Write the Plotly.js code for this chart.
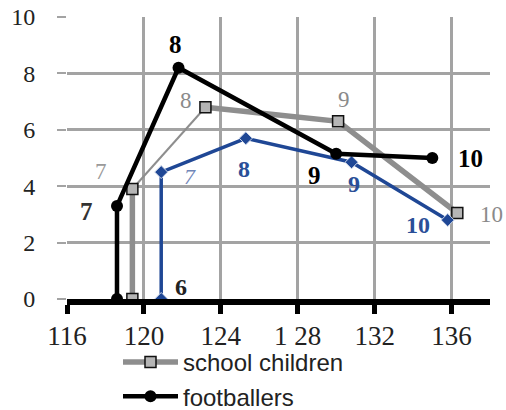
<!DOCTYPE html>
<html><head><meta charset="utf-8">
<script src="https://cdn.plot.ly/plotly-3.0.1.min.js"></script>
<style>html,body{margin:0;padding:0;background:#fff}#chart{width:506px;height:410px}</style>
</head><body><div id="chart"></div>
<script>
// Data
const xTicks = [116, 120, 124, 128, 132, 136];
const xTickText = ["116", "120", "124", "1 28", "132", "136"];
const yTicks = [0, 2, 4, 6, 8, 10];

const schoolX = [119.4, 119.4, 123.2, 130.1, 136.3];
const schoolY = [0, 3.9, 6.8, 6.3, 3.05];
const schoolLabels = ["", "7", "8", "9", "10"];

const footX = [118.6, 118.6, 121.8, 130.0, 135.0];
const footY = [0, 3.3, 8.2, 5.15, 5.0];
const footLabels = ["", "7", "8", "9", "10"];

const blueX = [120.9, 120.9, 125.3, 130.8, 135.8];
const blueY = [0, 4.5, 5.7, 4.85, 2.8];
const blueLabels = ["6", "7", "8", "9", "10"];

// label offsets (px): [dx, dy] with dy downward
const schoolOff = [[0,0], [-31,-18], [-19,-7], [6,-22], [34,2]];
const footOff = [[0,0], [-30,6], [-3,-23], [-22,22], [38,0]];
const blueOff = [[20,-12], [29,4], [-2,31], [2,22], [-30,5]];

const GRAY = "#8e8e8e", BLUE = "#1f4795", BLACK = "#000";

// school children: thick segments with a thin segment between points 1 and 2
const thinIdx = 1;
const schoolThickX = schoolX.slice(0, thinIdx + 1).concat([null], schoolX.slice(thinIdx + 1));
const schoolThickY = schoolY.slice(0, thinIdx + 1).concat([null], schoolY.slice(thinIdx + 1));
const schoolThinX = schoolX.slice(thinIdx, thinIdx + 2);
const schoolThinY = schoolY.slice(thinIdx, thinIdx + 2);

const traces = [
  {x: schoolThinX, y: schoolThinY, mode: "lines", showlegend: false, hoverinfo: "skip",
   line: {color: GRAY, width: 2}},
  {x: schoolThickX, y: schoolThickY, name: "school children", mode: "lines+markers",
   legendgroup: "a", connectgaps: false,
   line: {color: GRAY, width: 5.5},
   marker: {symbol: "square", size: 11, color: "#b5b5b5", line: {color: "#111", width: 1.5}}},
  {x: blueX, y: blueY, name: "", mode: "lines+markers", showlegend: false,
   line: {color: BLUE, width: 3.5},
   marker: {symbol: "diamond", size: 10, color: BLUE, line: {color: "#cfd8ea", width: 1}}},
  {x: footX, y: footY, name: "footballers", mode: "lines+markers",
   legendgroup: "b",
   line: {color: BLACK, width: 4.5},
   marker: {symbol: "circle", size: 12, color: BLACK}}
];

const annotations = [];
function addLabels(xs, ys, labels, offs, fonts) {
  for (let i = 0; i < xs.length; i++) {
    if (!labels[i]) continue;
    annotations.push({x: xs[i], y: ys[i], xref: "x", yref: "y", text: labels[i],
      showarrow: false, xshift: offs[i][0], yshift: -offs[i][1], font: fonts[i]});
  }
}
const grayF = {family: "Liberation Serif", size: 23, color: "#8a8a8a"};
const blackF = {family: "Liberation Serif", size: 25, color: "#000", weight: "bold"};
const blueF = {family: "Liberation Serif", size: 24, color: "#2a4f98", weight: "bold"};
addLabels(schoolX, schoolY, schoolLabels, schoolOff, [grayF, {...grayF, color: "#9a9a9a"}, grayF, grayF, grayF]);
addLabels(footX, footY, footLabels, footOff, [blackF, {...blackF, color: "#333"}, blackF, blackF, blackF]);
addLabels(blueX, blueY, blueLabels, blueOff,
  [{family: "Liberation Serif", size: 24, color: "#222", weight: "bold"},
   {family: "Liberation Serif", size: 22, color: "#7086b8", style: "italic"},
   blueF, blueF, blueF]);

const layout = {
  width: 506, height: 410,
  margin: {l: 67, r: 16, t: 17, b: 111, autoexpand: false},
  paper_bgcolor: "#fff", plot_bgcolor: "#fff",
  showlegend: true,
  legend: {xref: "container", yref: "container", x: 118/506, y: (410-340)/410,
    xanchor: "left", yanchor: "top", orientation: "v",
    traceorder: "grouped", tracegroupgap: 0, itemwidth: 55,
    font: {family: "Liberation Sans", size: 24, color: "#222"}, bgcolor: "rgba(0,0,0,0)"},
  xaxis: {range: [116, 138], tickvals: xTicks, ticktext: xTickText,
    showgrid: true, gridcolor: "#a3a3a3", gridwidth: 3,
    showline: true, linecolor: "#000", linewidth: 6,
    ticks: "outside", ticklen: 9, tickwidth: 5, tickcolor: "#000",
    zeroline: false, ticklabelstandoff: -1,
    tickfont: {family: "Liberation Serif", size: 27, color: "#222"}},
  yaxis: {range: [0, 10], tickvals: yTicks,
    showgrid: true, gridcolor: "#a3a3a3", gridwidth: 3,
    showline: false, zeroline: false,
    ticks: "outside", ticklen: 9, tickwidth: 2, tickcolor: "#a3a3a3",
    ticklabelstandoff: 17,
    tickfont: {family: "Liberation Serif", size: 24, color: "#222"}},
  annotations: annotations
};

Plotly.newPlot("chart", traces, layout, {displayModeBar: false, staticPlot: true});
</script>
</body></html>
